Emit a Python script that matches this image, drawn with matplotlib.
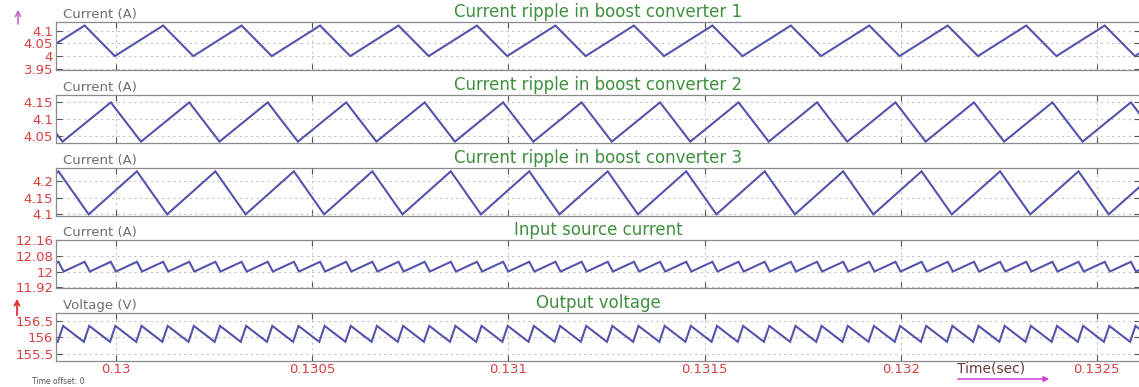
import numpy as np
import matplotlib
matplotlib.use("Agg")
import matplotlib.pyplot as plt
from matplotlib.patches import FancyArrowPatch

# ---------------- data ----------------
titles = ["Current ripple in boost converter 1",
          "Current ripple in boost converter 2",
          "Current ripple in boost converter 3",
          "Input source current",
          "Output voltage"]
ylabels = ["Current (A)", "Current (A)", "Current (A)", "Current (A)", "Voltage (V)"]

# waveform vertices: peak level, trough level, first peak time (us after 0.13 s),
# peak-to-trough (falling) duration (us), switching period (us)
peak_vals = [4.121, 4.150, 4.229, 12.050, 156.35]
trough_vals = [4.000, 4.033, 4.100, 12.000, 155.87]
first_peak_us = [-80.0, -13.3, 53.3, -80.0, -135.0]
fall_us = [77.0, 77.0, 77.0, 13.0, 53.0]
period_us = [200.0, 200.0, 200.0, 66.67, 66.67]

ytick_vals = [[3.95, 4.0, 4.05, 4.1],
              [4.05, 4.1, 4.15],
              [4.1, 4.15, 4.2],
              [11.92, 12.0, 12.08, 12.16],
              [155.5, 156.0, 156.5]]
ytick_labels = [["3.95", "4", "4.05", "4.1"],
                ["4.05", "4.1", "4.15"],
                ["4.1", "4.15", "4.2"],
                ["11.92", "12", "12.08", "12.16"],
                ["155.5", "156", "156.5"]]
ylims = [(3.945, 4.135), (4.028, 4.172), (4.095, 4.239), (11.918, 12.162), (155.30, 156.73)]

xtick_vals = [0.13, 0.1305, 0.131, 0.1315, 0.132, 0.1325]
xtick_labels = ["0.13", "0.1305", "0.131", "0.1315", "0.132", "0.1325"]
t0 = 0.13
xlim = (0.129847, 0.132610)

# ---------------- styling ----------------
W, H = 1139, 387
fig = plt.figure(figsize=(W / 100, H / 100), dpi=100)
fig.patch.set_facecolor("white")

# axes boxes in pixel units (top, bottom)
boxes = [(22, 70), (95, 143.3), (168, 216), (240, 287.5), (313.3, 360.7)]
left_px, right_px = 56, 1140

line_color = "#5454ac"
tick_red = "#d94040"
title_green = "#3f8f3f"
label_gray = "#6e6e6e"

for i in range(5):
    top, bot = boxes[i]
    ax = fig.add_axes([left_px / W, 1 - bot / H, (right_px - left_px) / W, (bot - top) / H])

    # build triangle-wave vertices
    k = np.arange(-3, 50)
    peaks_t = first_peak_us[i] + k * period_us[i]
    troughs_t = peaks_t + fall_us[i]
    tv = np.empty(2 * len(k))
    yv = np.empty(2 * len(k))
    tv[0::2] = peaks_t
    tv[1::2] = troughs_t
    yv[0::2] = peak_vals[i]
    yv[1::2] = trough_vals[i]
    ax.plot(t0 + tv * 1e-6, yv, color=line_color, lw=1.5, solid_joinstyle="miter")

    ax.set_xlim(*xlim)
    ax.set_ylim(*ylims[i])
    ax.set_yticks(ytick_vals[i])
    ax.set_yticklabels(ytick_labels[i])
    ax.set_xticks(xtick_vals)
    if i == 4:
        ax.set_xticklabels(xtick_labels)
    else:
        ax.set_xticklabels([])
    ax.tick_params(axis="both", direction="in", length=4, width=0.8,
                   top=True, right=True, colors="#555555",
                   labelsize=9.5, pad=2)
    for lab in ax.get_yticklabels() + ax.get_xticklabels():
        lab.set_color(tick_red)
    ax.grid(True, linestyle=(0, (2, 3)), color="#c4c4c4", lw=0.8)
    for sp in ax.spines.values():
        sp.set_color("#8a8a8a")
        sp.set_linewidth(0.9)

    ax.text(0.5, 1.03, titles[i], transform=ax.transAxes, ha="center", va="bottom",
            color=title_green, fontsize=12)
    ax.text(0.006, 1.03, ylabels[i], transform=ax.transAxes, ha="left", va="bottom",
            color=label_gray, fontsize=9.5)

# axis annotations
fig.text(957 / W, 1 - 369 / H, "Time(sec)", ha="left", va="center", fontsize=10, color="#6a3a3a")
fig.text(32 / W, 1 - 381 / H, "Time offset: 0", ha="left", va="center", fontsize=5.5, color="#555555")

fig.add_artist(FancyArrowPatch((955 / W, 1 - 379 / H), (1052 / W, 1 - 379 / H),
                               transform=fig.transFigure, arrowstyle="-|>",
                               mutation_scale=8, color="#d040d0", lw=1.1))
fig.add_artist(FancyArrowPatch((18 / W, 1 - 27 / H), (18 / W, 1 - 7 / H),
                               transform=fig.transFigure, arrowstyle="->",
                               mutation_scale=9, color="#c060c0", lw=1.1))
fig.add_artist(FancyArrowPatch((17 / W, 1 - 318 / H), (17 / W, 1 - 296 / H),
                               transform=fig.transFigure, arrowstyle="->",
                               mutation_scale=9, color="#e03030", lw=1.3))

fig.savefig("out.png", dpi=100, facecolor="white")
